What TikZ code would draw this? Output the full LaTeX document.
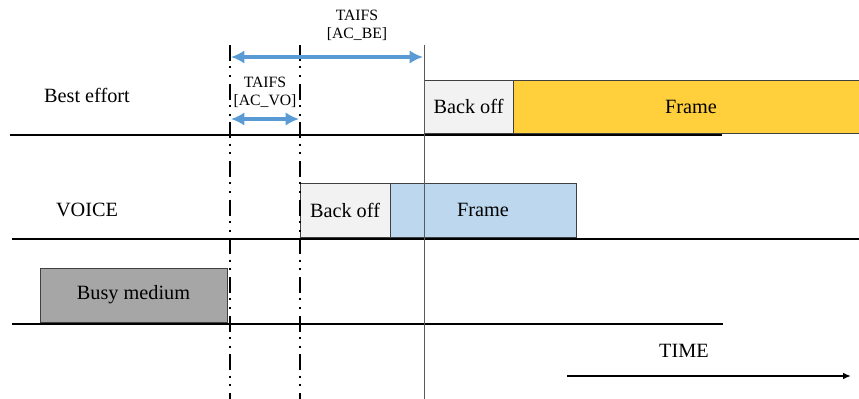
\documentclass[tikz,border=0pt]{standalone}
\usepackage{fontspec}
\setmainfont{Liberation Serif}
\usetikzlibrary{arrows.meta}
\definecolor{frameyellow}{HTML}{FFD03C}
\definecolor{frameblue}{HTML}{BDD7EE}
\definecolor{arrowblue}{HTML}{5B9BD5}
\definecolor{backoffgray}{HTML}{F2F2F2}
\definecolor{busygray}{HTML}{A6A6A6}
\definecolor{boxborder}{HTML}{404040}
\tikzset{
  slot/.style={draw=boxborder, line width=0.7pt, inner sep=0pt, font=\fontsize{15.2}{18}\selectfont},
  label/.style={inner sep=0pt, font=\fontsize{15.2}{18}\selectfont},
  small/.style={inner sep=0pt, align=center, font=\fontsize{11.8}{13.5}\selectfont},
  axis/.style={line width=1.8pt, black},
  ifsline/.style={line width=1.8pt, dash pattern=on 12pt off 4pt on 1.5pt off 5pt on 1.5pt off 5pt},
  span/.style={arrowblue, line width=2.6pt, {Latex[length=10pt,width=10pt]}-{Latex[length=10pt,width=10pt]}},
}
\begin{document}
\begin{tikzpicture}[x=0.75pt,y=-0.75pt]
\useasboundingbox (0,0) rectangle (859,399);
% boxes
\node[slot, fill=backoffgray, minimum width=66.75pt, minimum height=39.75pt] (beback) at (468.5,106.5) {Back off};
\node[slot, fill=frameyellow, minimum width=267pt, minimum height=39.75pt] (beframe) at (691,106.5) {Frame};
\node[slot, fill=backoffgray, minimum width=67.5pt, minimum height=40.5pt] (voback) at (345,210) {Back off};
\node[slot, fill=frameblue, minimum width=139.5pt, minimum height=40.5pt] (voframe) at (483,210) {Frame};
\node[slot, fill=busygray, minimum width=140.25pt, minimum height=40.5pt] (busy) at (133.5,295) {Busy medium};
% row labels
\node[label] (belabel) at (87,95) {Best effort};
\node[label] (volabel) at (87,210) {VOICE};
\node[label] (time) at (684,351) {TIME};
% axes
\coordinate (l1a) at (10,135); \coordinate (l1b) at (722,135);
\coordinate (l2a) at (12,239); \coordinate (l2b) at (859,239);
\coordinate (l3a) at (12,324); \coordinate (l3b) at (723,324);
\draw[axis] (l1a) -- (l1b);
\draw[axis] (l2a) -- (l2b);
\draw[axis] (l3a) -- (l3b);
% vertical markers
\coordinate (v1t) at (230,45); \coordinate (v1b) at (230,399);
\coordinate (v2t) at (300,45); \coordinate (v2b) at (300,399);
\coordinate (v3t) at (424,45); \coordinate (v3b) at (424,399);
\draw[ifsline] (v1t) -- (v1b);
\draw[ifsline] (v2t) -- (v2b);
\draw[gray!70!black, line width=0.7pt] (v3t) -- (v3b);
% spans
\coordinate (beS) at (231,57); \coordinate (beE) at (423,57);
\coordinate (voS) at (231,119); \coordinate (voE) at (299,119);
\draw[span] (beS) -- (beE);
\draw[span] (voS) -- (voE);
\node[small] (betext) at (357,25) {TAIFS\\{[AC\_BE]}};
\node[small] (votext) at (265,92) {TAIFS\\{[AC\_VO]}};
% time arrow
\coordinate (tS) at (567,376); \coordinate (tE) at (851,376);
\draw[line width=1.3pt, -{Latex[length=6pt,width=5pt]}] (tS) -- (tE);
\end{tikzpicture}
\end{document}
